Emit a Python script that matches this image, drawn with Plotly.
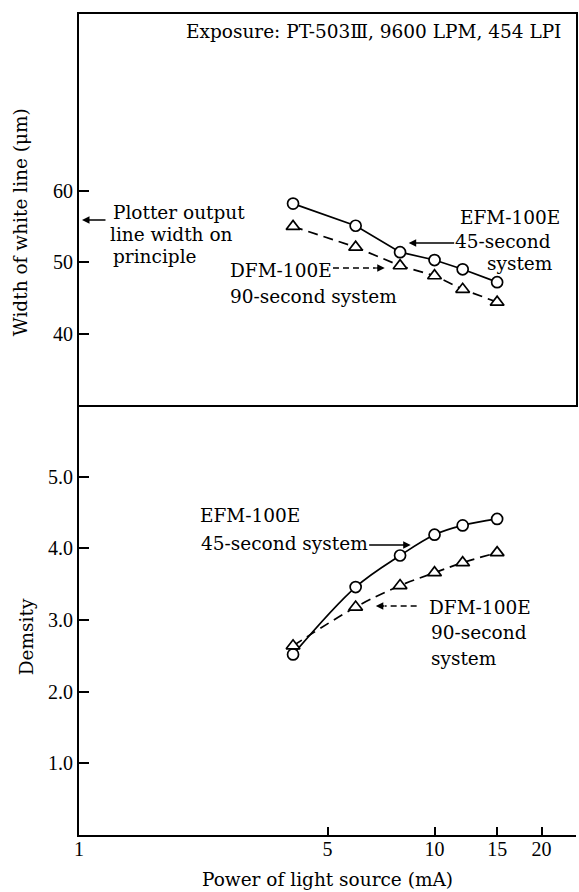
import math
import plotly.graph_objects as go

# Measured values: white-line width and density against light-source power
current_ma = [4, 6, 8, 10, 12, 15]
width_efm = [58.2, 55.1, 51.4, 50.3, 49.0, 47.2]
width_dfm = [55.0, 52.1, 49.5, 48.1, 46.2, 44.4]
density_efm = [2.52, 3.46, 3.90, 4.19, 4.32, 4.41]
density_dfm = [2.64, 3.18, 3.48, 3.66, 3.80, 3.94]
plotter_width = 55.9  # nominal plotter output line width (µm)

x_ticks = [1, 5, 10, 15, 20]
width_ticks = [40, 50, 60]
density_ticks = [1.0, 2.0, 3.0, 4.0, 5.0]

# Page geometry (pixels)
W, H = 579, 892
L, R, T, B = 79, 1, 14, 57
X0, X1 = L, W - R
Y0, Y1 = T, H - B
SPLIT_PX = 405
split = (Y1 - SPLIT_PX) / (Y1 - Y0)


def px(x):
    return (x - X0) / (X1 - X0)


def py(y):
    return (Y1 - y) / (Y1 - Y0)


TEXT_FONT = dict(family="DejaVu Serif", size=18.5, color="black")
TICK_FONT = dict(family="Liberation Serif", size=20, color="black")

fig = go.Figure()

marker_circle = dict(symbol="circle", size=11, color="white",
                     line=dict(color="black", width=1.7))
marker_tri = dict(symbol="triangle-up", size=12, color="white",
                  line=dict(color="black", width=1.7))

# Upper panel: line width
fig.add_trace(go.Scatter(x=current_ma, y=width_efm, xaxis="x2", yaxis="y2",
                         mode="lines+markers", line=dict(color="black", width=1.7),
                         marker=marker_circle, showlegend=False))
fig.add_trace(go.Scatter(x=current_ma, y=width_dfm, xaxis="x2", yaxis="y2",
                         mode="lines+markers",
                         line=dict(color="black", width=1.7, dash="10px,6px"),
                         marker=marker_tri, showlegend=False))

# Lower panel: density
fig.add_trace(go.Scatter(x=current_ma, y=density_efm, xaxis="x", yaxis="y",
                         mode="lines+markers",
                         line=dict(color="black", width=1.7, shape="spline", smoothing=1.0),
                         marker=marker_circle, showlegend=False))
fig.add_trace(go.Scatter(x=current_ma, y=density_dfm, xaxis="x", yaxis="y",
                         mode="lines+markers",
                         line=dict(color="black", width=1.7, shape="spline", smoothing=1.0,
                                   dash="10px,6px"),
                         marker=marker_tri, showlegend=False))

annotations = []
shapes = []


def label(text, x, y, xanchor="left", **kw):
    annotations.append(dict(text=text, x=px(x), y=py(y), xref="paper", yref="paper",
                            xanchor=xanchor, yanchor="middle", showarrow=False,
                            font=TEXT_FONT, **kw))


def arrow(head, tail):
    hx, hy = head
    tx, ty = tail
    annotations.append(dict(text="", x=px(hx), y=py(hy), xref="paper", yref="paper",
                            ax=tx - hx, ay=ty - hy, showarrow=True, arrowhead=2,
                            arrowsize=1, arrowwidth=1.5, arrowcolor="black", standoff=0))


def dashed_arrow(head, tail):
    hx, hy = head
    tx, ty = tail
    dx = 1 if tx > hx else -1
    shapes.append(dict(type="line", xref="paper", yref="paper",
                       x0=px(tx), y0=py(ty), x1=px(hx + dx * 9), y1=py(hy),
                       line=dict(color="black", width=1.5, dash="6px,4px")))
    arrow(head, (hx + dx * 10, hy))


# Header
label("Exposure: PT-503Ⅲ, 9600 LPM, 454 LPI", 565, 32, xanchor="right")

# Plotter nominal width marker on the upper axis
label("Plotter output", 111, 212)
label("line width on", 108, 234)
label("principle", 111, 256)
annotations.append(dict(text="", x=px(82), y=plotter_width, xref="paper", yref="y2",
                        ax=25, ay=0, showarrow=True, arrowhead=2, arrowsize=1,
                        arrowwidth=1.5, arrowcolor="black", standoff=0))

# Upper panel series labels
label("EFM-100E", 564, 218, xanchor="right")
label("45-second", 555, 241, xanchor="right")
label("system", 557, 263, xanchor="right")
arrow((410, 243), (457, 243))

label("DFM-100E", 229, 270)
label("90-second system", 229, 296)
dashed_arrow((386, 268), (334, 268))

# Lower panel series labels
label("EFM-100E", 198, 515)
label("45-second system", 199, 543)
arrow((412, 545), (369, 545))

label("DFM-100E", 428, 607)
label("90-second", 430, 632)
label("system", 430, 658)
dashed_arrow((377, 606), (418, 606))

# Axis titles
label("Width of white line (μm)", 21, 222, xanchor="center", textangle=-90)
label("Demsity", 26, 637, xanchor="center", textangle=-90)
label("Power of light source (mA)", 329, 879, xanchor="center")

x_range = [0, math.log10(25)]
common_axis = dict(showgrid=False, zeroline=False, linecolor="black", linewidth=2,
                   tickcolor="black", tickwidth=1.5, tickfont=TICK_FONT)

fig.update_layout(
    width=W, height=H,
    margin=dict(l=L, r=R, t=T, b=B, pad=0),
    paper_bgcolor="white", plot_bgcolor="white",
    showlegend=False,
    xaxis=dict(type="log", range=x_range, domain=[0, 1], anchor="y",
               showline=True, ticks="inside", ticklen=8, ticklabelstandoff=-5,
               tickvals=x_ticks, ticktext=[str(v) for v in x_ticks], **common_axis),
    xaxis2=dict(type="log", range=x_range, domain=[0, 1], anchor="y2", matches="x",
                showline=True, mirror=True, ticks="", showticklabels=False,
                showgrid=False, zeroline=False, linecolor="black", linewidth=2),
    yaxis=dict(domain=[0, split], range=[0, 6], anchor="x", showline=True,
               ticks="inside", ticklen=10, tickvals=density_ticks,
               ticktext=[f"{v:.1f}" for v in density_ticks], **common_axis),
    yaxis2=dict(domain=[split, 1], range=[30, 84.75], anchor="x2", showline=True,
                mirror=True, ticks="inside", ticklen=10, tickvals=width_ticks,
                ticktext=[str(v) for v in width_ticks], **common_axis),
    annotations=annotations,
    shapes=shapes,
)

fig.write_html("out.html")
